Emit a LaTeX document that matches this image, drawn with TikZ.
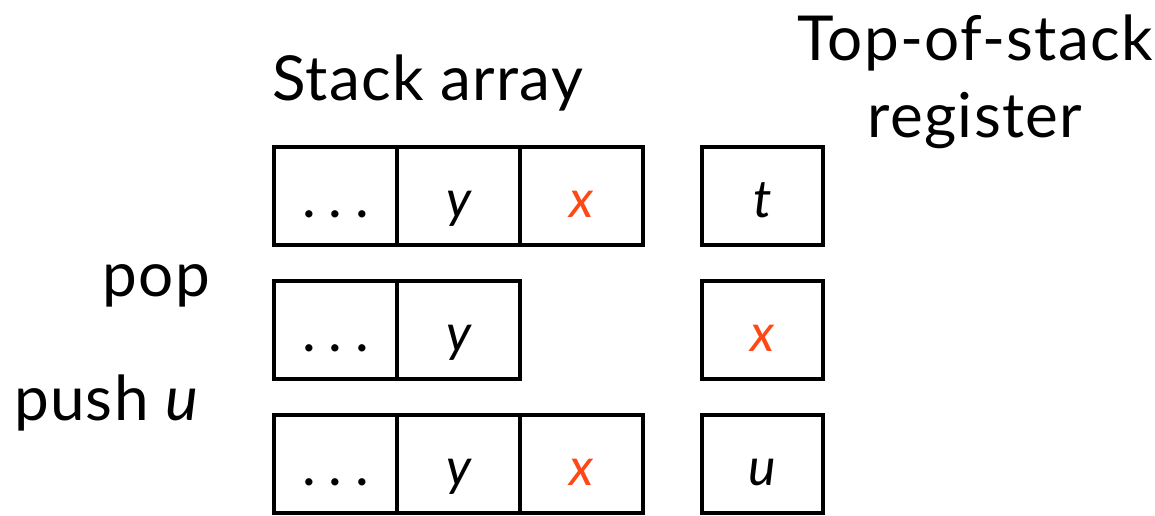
\documentclass[tikz,border=0pt]{standalone}
\usepackage{fontspec}
\setmainfont{Lato}[LetterSpace=2]
\definecolor{accent}{RGB}{255,72,22}
\newcommand{\mydots}{.\hspace{0.22em}.\hspace{0.22em}.}
\tikzset{
  cell/.style={draw=black, line width=4pt, minimum width=123pt, minimum height=98pt, inner sep=0pt, fill=white},
  reg/.style={cell, minimum width=121pt},
  val/.style={anchor=base, inner sep=0pt, font=\fontsize{52}{60}\selectfont\itshape},
  dotsval/.style={anchor=base, inner sep=0pt, font=\fontsize{58}{60}\selectfont},
  lbl/.style={inner sep=0pt, font=\fontsize{62}{72}\selectfont},
}
\begin{document}
\begin{tikzpicture}[x=1pt,y=-1pt]
\useasboundingbox (0,0) rectangle (1155,515);
% headings
\node[lbl, anchor=base west] (title) at (272,100) {Stack array};
\node[lbl, anchor=base] (top) at (975,60) {Top-of-stack};
\node[lbl, anchor=base] (regt) at (975,137) {register};
\node[lbl, anchor=base east] (pop) at (210,296) {pop};
\node[lbl, anchor=base east] (push) at (200,420) {push \textit{u}};
% row 1
\node[cell] (a1) at (335.5,196) {};
\node[cell] (a2) at (458.5,196) {};
\node[cell] (a3) at (581.5,196) {};
\node[reg] (r1) at (762.5,196) {};
% row 2
\node[cell] (b1) at (335.5,330) {};
\node[cell] (b2) at (458.5,330) {};
\node[reg] (r2) at (762.5,330) {};
% row 3
\node[cell] (c1) at (335.5,464) {};
\node[cell] (c2) at (458.5,464) {};
\node[cell] (c3) at (581.5,464) {};
\node[reg] (r3) at (762.5,464) {};
% values
\node[dotsval] at ([yshift=-21pt]a1.center) {\mydots};
\node[val] at ([yshift=-21pt]a2.center) {y};
\node[val, text=accent] at ([yshift=-21pt]a3.center) {x};
\node[val] at ([yshift=-21pt]r1.center) {t};
\node[dotsval] at ([yshift=-21pt]b1.center) {\mydots};
\node[val] at ([yshift=-21pt]b2.center) {y};
\node[val, text=accent] at ([yshift=-21pt]r2.center) {x};
\node[dotsval] at ([yshift=-21pt]c1.center) {\mydots};
\node[val] at ([yshift=-21pt]c2.center) {y};
\node[val, text=accent] at ([yshift=-21pt]c3.center) {x};
\node[val] at ([yshift=-21pt]r3.center) {u};
\end{tikzpicture}
\end{document}
